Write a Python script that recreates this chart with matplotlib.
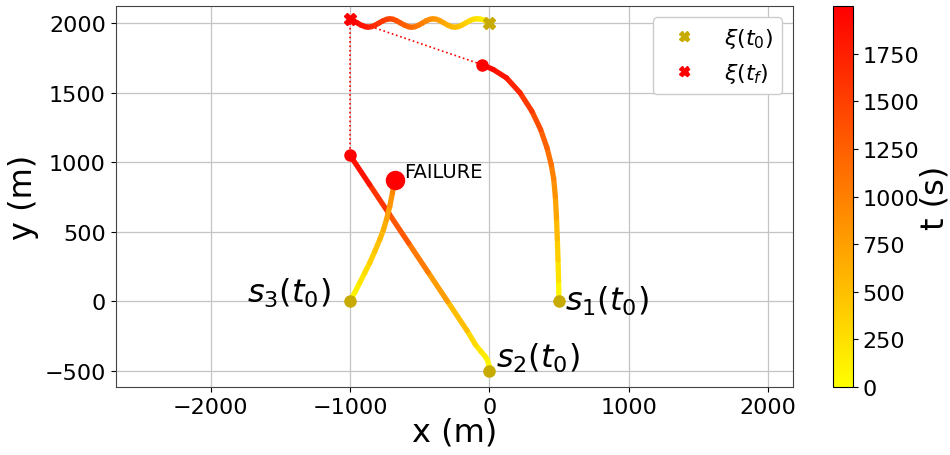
import numpy as np
import matplotlib
matplotlib.use("Agg")
import matplotlib.pyplot as plt
from matplotlib.collections import LineCollection
from matplotlib.colors import Normalize

# ---- data ----
s1_x = [500, 497, 493, 488, 482, 474, 462, 444, 414, 368, 305, 220, 123, 28, -50]
s1_y = [0, 150, 300, 450, 600, 750, 880, 984, 1103, 1235, 1367, 1499, 1606, 1666, 1700]
s1_t = [0, 158, 317, 475, 634, 792, 931, 1042, 1172, 1320, 1474, 1640, 1792, 1910, 2000]

s2_x = [0, -3, -12, -30, -60, -100, -160, -300, -440, -580, -720, -860, -1000]
s2_y = [-500, -460, -425, -395, -360, -310, -210, 0, 210, 420, 630, 840, 1050]
s2_t = [0, 43, 82, 120, 170, 239, 365, 638, 910, 1183, 1455, 1727, 2000]

s3_x = [-1000, -965, -930, -894, -858, -822, -786, -760, -738, -714, -695, -680]
s3_y = [0, 65, 134, 206, 278, 360, 445, 515, 589, 685, 781, 870]
s3_t = [0, 78, 160, 245, 330, 424, 521, 600, 681, 786, 890, 985]

xi_x = [0, -20, -45, -70, -92, -115, -140, -170, -200, -225, -248, -270, -300, -330,
        -355, -380, -403, -425, -455, -485, -510, -535, -559, -580, -610, -640, -665,
        -690, -714, -735, -765, -795, -820, -845, -870, -890, -920, -950, -975, -1000]
xi_y = [2000, 2012, 2024, 2029, 2030, 2027, 2017, 2000, 1983, 1973, 1970, 1973, 1985, 2003,
        2017, 2027, 2030, 2027, 2015, 1997, 1983, 1973, 1970, 1973, 1985, 2002, 2016,
        2027, 2030, 2027, 2015, 1998, 1984, 1974, 1970, 1973, 1984, 2002, 2016, 2026]
xi_t = [0, 40, 90, 140, 184, 230, 280, 340, 400, 450, 496, 540, 600, 660,
        710, 760, 806, 850, 910, 970, 1020, 1070, 1118, 1160, 1220, 1280, 1330,
        1380, 1428, 1470, 1530, 1590, 1640, 1690, 1740, 1780, 1840, 1900, 1950, 2000]

t_max = 2000
start_labels = ["$s_1(t_0)$", "$s_2(t_0)$", "$s_3(t_0)$"]
failure_label = "FAILURE"
legend_labels = [r"$\xi(t_0)$", r"$\xi(t_f)$"]
cbar_ticks = [0, 250, 500, 750, 1000, 1250, 1500, 1750]

# ---- figure ----
fig = plt.figure(figsize=(9.5, 4.56), dpi=100)
ax = fig.add_axes([0.1216, 0.1491, 0.7132, 0.8355])
cax = fig.add_axes([0.877, 0.1491, 0.0205, 0.8355])

cmap = plt.get_cmap("autumn_r")
norm = Normalize(0, t_max)
olive = "#c8ab00"


def colored_line(xs, ys, ts):
    pts = np.column_stack([xs, ys])
    segs = np.stack([pts[:-1], pts[1:]], axis=1)
    tt = np.asarray(ts, float)
    tmid = (tt[:-1] + tt[1:]) / 2
    lc = LineCollection(segs, cmap=cmap, norm=norm, linewidths=3.8,
                        capstyle="round", joinstyle="round", zorder=3)
    lc.set_array(tmid)
    ax.add_collection(lc)
    return lc


ax.grid(True, color="#c4c4c4", linewidth=0.9, zorder=0)
ax.set_axisbelow(True)
for sp in ax.spines.values():
    sp.set_color("#444444")

# dotted links from xi(t_f) to agents' final positions
ax.plot([xi_x[-1], s1_x[-1]], [xi_y[-1], s1_y[-1]], ":", color="red", lw=1.2, zorder=2)
ax.plot([xi_x[-1], s2_x[-1]], [xi_y[-1], s2_y[-1]], ":", color="red", lw=1.2, zorder=2)

lc = colored_line(xi_x, xi_y, xi_t)
colored_line(s1_x, s1_y, s1_t)
colored_line(s2_x, s2_y, s2_t)
colored_line(s3_x, s3_y, s3_t)

# start markers
for xs, ys in [(s1_x, s1_y), (s2_x, s2_y), (s3_x, s3_y)]:
    ax.plot(xs[0], ys[0], "o", color=olive, ms=8, zorder=5)
# end markers
ax.plot(s1_x[-1], s1_y[-1], "o", color="red", ms=8, zorder=5)
ax.plot(s2_x[-1], s2_y[-1], "o", color="red", ms=8, zorder=5)
ax.plot(s3_x[-1], s3_y[-1], "o", color="red", ms=13, zorder=5)

ax.plot(xi_x[0], xi_y[0], "X", color=olive, ms=8, zorder=6, label=legend_labels[0], linestyle="none")
ax.plot(xi_x[-1], xi_y[-1], "X", color="red", ms=8, zorder=6, label=legend_labels[1], linestyle="none")

# annotations
ax.text(s1_x[0] + 45, s1_y[0] + 5, start_labels[0], fontsize=23, ha="left", va="center")
ax.text(s2_x[0] + 45, s2_y[0] + 95, start_labels[1], fontsize=23, ha="left", va="center")
ax.text(s3_x[0] - 140, s3_y[0] + 65, start_labels[2], fontsize=23, ha="right", va="center")
ax.text(s3_x[-1] + 70, s3_y[-1] + 60, failure_label, fontsize=14, ha="left", va="center")

ax.set_xlim(-2683, 2180)
ax.set_ylim(-615, 2122)
ax.set_xticks([-2000, -1000, 0, 1000, 2000])
ax.set_yticks([-500, 0, 500, 1000, 1500, 2000])
ax.tick_params(labelsize=16)
ax.set_xlabel("x (m)", fontsize=23, labelpad=0)
ax.set_ylabel("y (m)", fontsize=23, labelpad=4)

ax.legend(loc="upper right", fontsize=16, framealpha=1.0, markerscale=0.9)

cb = fig.colorbar(lc, cax=cax, ticks=cbar_ticks)
cb.ax.tick_params(labelsize=16)
cb.set_label("t (s)", fontsize=23, labelpad=0)

fig.savefig("out.png", dpi=100)
